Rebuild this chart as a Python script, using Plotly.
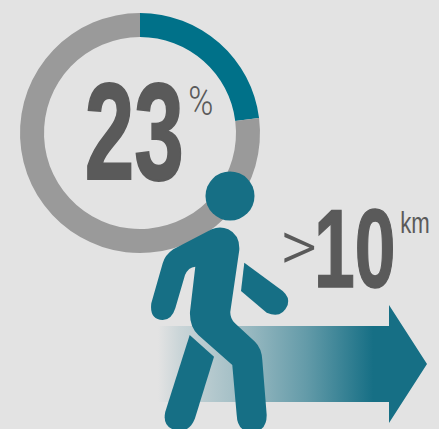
import plotly.graph_objects as go

# Data
categories = ["Walk more than 10 km", "Others"]
values = [23, 77]
big_label = "23"
big_unit = "%"
distance_label = "10"
distance_prefix = ">"
distance_unit = "km"

BG = "#e3e3e3"
TEAL = "#007189"
WALKER = "#166f85"
GREY = "#9a9a9a"
TEXT = "#5a5a5a"
W, H = 439, 429


def Z(x, y):
    """Zoomed pictogram drawing units to page pixels."""
    return f"{140 + x / 3:.1f},{160 + y / 3:.1f}"


def path(*cmds):
    out = []
    for c in cmds:
        if c == "Z":
            out.append("Z")
        else:
            letter, *pts = c
            out.append(letter + " " + " ".join(Z(*p) for p in pts))
    return " ".join(out)


body = path(
    ("M", (215, 208)),
    ("Q", (240, 197), (265, 208)),
    ("Q", (300, 225), (298, 270)),
    ("L", (271, 455)),
    ("Q", (270, 475), (285, 490)),
    ("L", (345, 545)),
    ("Q", (365, 565), (367, 600)),
    ("L", (380, 765)),
    ("Q", (380, 815), (335, 815)),
    ("Q", (292, 815), (290, 765)),
    ("L", (277, 615)),
    ("L", (175, 525)),
    ("Q", (148, 500), (150, 455)),
    ("L", (166, 320)),
    ("Q", (145, 322), (135, 345)),
    ("L", (106, 445)),
    ("Q", (95, 480), (68, 480)),
    ("Q", (28, 478), (34, 430)),
    ("L", (68, 310)),
    ("Q", (75, 285), (100, 268)),
    "Z",
)
back_leg = path(
    ("M", (149, 525)),
    ("L", (222, 590)),
    ("L", (165, 775)),
    ("Q", (150, 815), (115, 812)),
    ("Q", (65, 805), (76, 755)),
    "Z",
)
front_arm = path(
    ("M", (313, 308)),
    ("L", (428, 393)),
    ("Q", (450, 412), (443, 435)),
    ("Q", (425, 478), (380, 458)),
    ("L", (303, 393)),
    "Z",
)

fig = go.Figure()

# gradient arrow
arrow_x = [158, 389, 389, 427, 389, 389, 158, 158]
arrow_y = [326, 326, 305, 364, 423, 402, 402, 326]
fig.add_trace(go.Scatter(
    x=arrow_x, y=arrow_y, mode="lines", line=dict(width=0), fill="toself",
    hoverinfo="skip", showlegend=False,
    fillgradient=dict(
        type="horizontal",
        colorscale=[
            [0.0, "rgba(22,111,133,0)"],
            [0.08, "rgba(22,111,133,0.12)"],
            [0.3, "rgba(22,111,133,0.32)"],
            [0.55, "rgba(22,111,133,0.62)"],
            [0.8, "rgba(22,111,133,1)"],
            [1.0, "rgba(22,111,133,1)"],
        ],
    ),
))

# donut
fig.add_trace(go.Pie(
    labels=categories, values=values, hole=0.8, sort=False,
    direction="clockwise", rotation=0, textinfo="none", hoverinfo="skip",
    marker=dict(colors=[TEAL, GREY], line=dict(width=0)),
    domain=dict(x=[20 / W, 260 / W], y=[1 - 253 / H, 1 - 13 / H]),
    showlegend=False,
))

shapes = [
    dict(type="circle", xref="x", yref="y", x0=205.5, x1=254.5, y0=171.5, y1=220.5,
         fillcolor=WALKER, line=dict(width=0), layer="above"),
]
for p in (body, back_leg, front_arm):
    shapes.append(dict(type="path", xref="x", yref="y", path=p,
                       fillcolor=WALKER, line=dict(width=0), layer="above"))


def note(text, x, y, size, bold=False, family="Liberation Sans", weight=None):
    font = dict(family=family, size=size, color=TEXT)
    if weight:
        font["weight"] = weight
    return dict(
        text=f"<b>{text}</b>" if bold else text, x=x, y=y, xref="x", yref="y",
        xanchor="center", yanchor="middle", showarrow=False, font=font,
    )


annotations = [
    note(big_label, 134, 131, 137, True),
    note(big_unit, 201, 101, 40, family="Roboto", weight=300),
    note(distance_prefix, 298, 246, 72, family="Roboto", weight=300),
    note(distance_label, 354, 249, 111, True),
    note(distance_unit, 415, 222, 30),
]

fig.update_layout(
    width=W, height=H, margin=dict(l=0, r=0, t=0, b=0),
    paper_bgcolor=BG, plot_bgcolor=BG,
    xaxis=dict(range=[0, W], visible=False, domain=[0, 1], fixedrange=True),
    yaxis=dict(range=[H, 0], visible=False, domain=[0, 1], fixedrange=True),
    shapes=shapes, annotations=annotations, showlegend=False,
)

post = """
document.body.style.margin = '0';
document.documentElement.style.background = '#e3e3e3';
var sx = [0.65, 0.85, 1, 0.66, 0.74];
var sw = [2, 0, 0, 1.6, 0];
document.querySelectorAll('text.annotation-text').forEach(function (t, i) {
  t.style.transformBox = 'fill-box';
  t.style.transformOrigin = 'center';
  t.style.transform = 'scaleX(' + sx[i] + ')';
  if (sw[i]) { t.style.stroke = '#5a5a5a'; t.style.strokeWidth = sw[i] + 'px'; }
});
"""
fig.write_html("out.html", post_script=post, config={"displayModeBar": False})
